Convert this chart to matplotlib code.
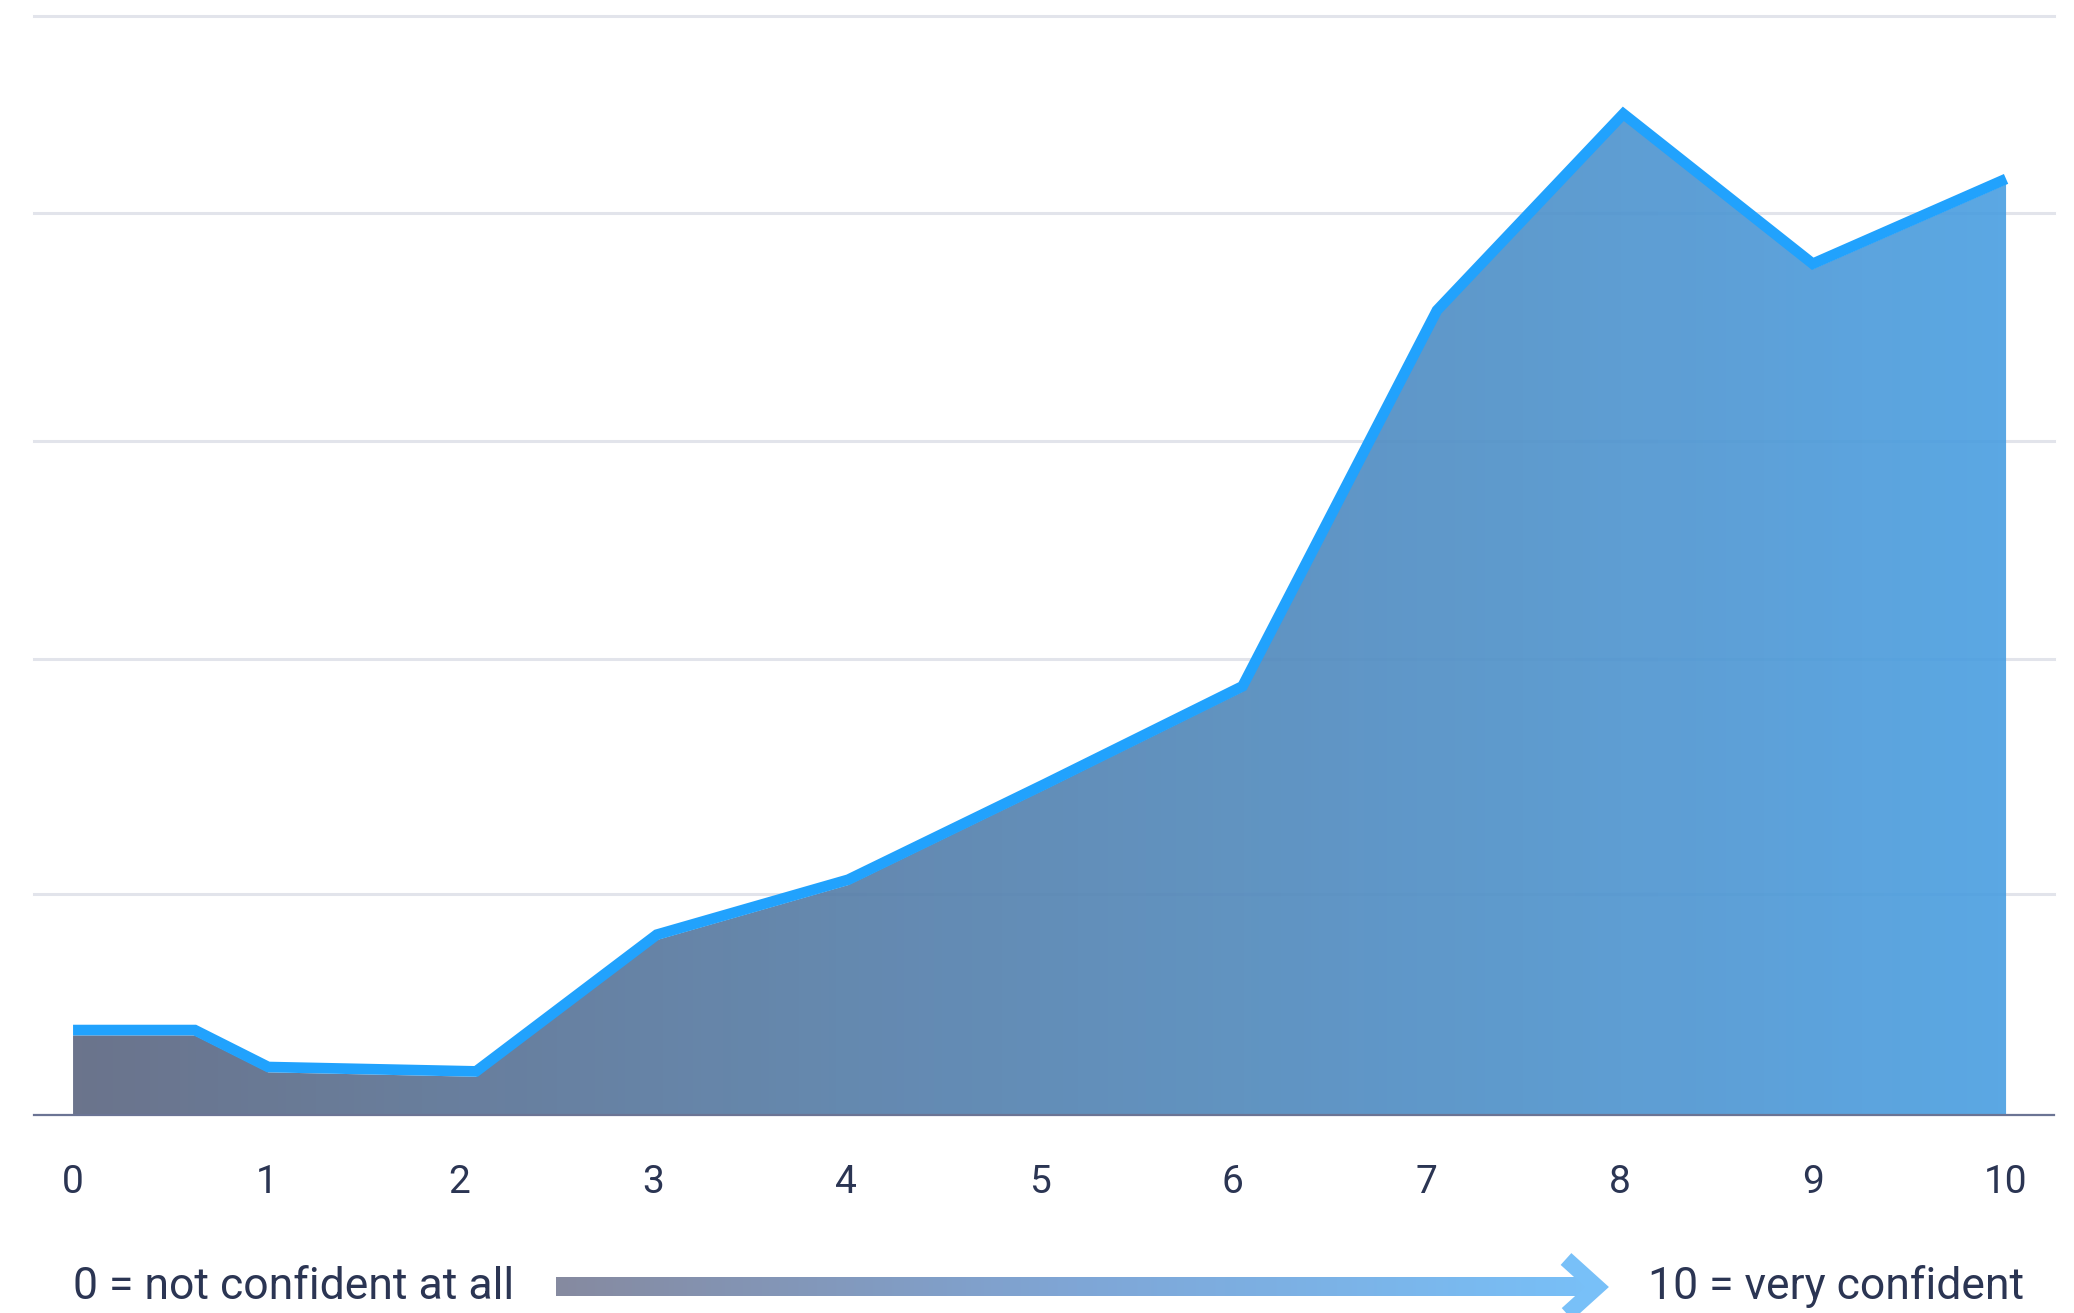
import numpy as np
import matplotlib
matplotlib.use("Agg")
import matplotlib.pyplot as plt
from matplotlib.colors import LinearSegmentedColormap
from matplotlib.patches import Polygon
from matplotlib.transforms import offset_copy

# ------------------- DATEN -------------------
# confidence score (0..10); the vertices sit slightly off the integer ticks in the original
scores = [0, 0.63, 1.01, 2.085, 3.02, 4.01, 5.03, 6.05, 7.056, 8.02, 9.0, 10]
share = [1.81, 1.81, 0.97, 0.87, 3.98, 5.23, 7.41, 9.63, 18.18, 22.65, 19.24, 21.17]
grid_levels = [5.03, 10.38, 15.32, 20.51, 25.0]
tick_pos = list(range(11))
tick_labels = [str(i) for i in tick_pos]
left_label = "0 = not confident at all"
right_label = "10 = very confident"

# ------------------- STIL -------------------
W, H = 2074, 1313
text_col = "#2b3553"
line_col = "#21a2fd"
grid_col = "#e2e4eb"
fill_cmap = LinearSegmentedColormap.from_list("fill", ["#5e6882", "#4ca0e2"])
bar_cmap = LinearSegmentedColormap.from_list("bar", ["#868aa0", "#7fa6d6", "#78c0f8"])
line_w = 7.7  # pt

plt.rcParams["font.family"] = ["Roboto", "DejaVu Sans"]

fig = plt.figure(figsize=(W / 100, H / 100), dpi=100)
ax = fig.add_axes([34 / W, (H - 1115) / H, (2054 - 34) / W, (1115 - 4) / H])
ax.set_xlim(-0.202, 10.248)
ax.set_ylim(0, 25.27)

# Gitternetz
for g in grid_levels:
    ax.axhline(g, color=grid_col, lw=2.2, zorder=1, clip_on=False)

# Flaeche mit Farbverlauf
x = np.array(scores)
y = np.array(share)
poly_pts = np.vstack([[x[0], 0], np.column_stack([x, y]), [x[-1], 0]])
poly = Polygon(poly_pts, closed=True, facecolor="none", edgecolor="none")
ax.add_patch(poly)
grad = np.linspace(0, 1, 512).reshape(1, -1)
img = ax.imshow(grad, cmap=fill_cmap, extent=[x[0], x[-1], 0, max(share)],
                aspect="auto", alpha=0.92, zorder=2, interpolation="bicubic")
img.set_clip_path(poly)

# Linie sitzt auf der Flaeche
tr = offset_copy(ax.transData, fig=fig, x=0, y=line_w / 2, units="points")
ax.plot(x, y, color=line_col, lw=line_w, transform=tr, zorder=3,
        solid_joinstyle="miter", solid_capstyle="butt")

for s in ["top", "left", "right"]:
    ax.spines[s].set_visible(False)
ax.spines["bottom"].set_color("#6b7494")
ax.spines["bottom"].set_linewidth(1.6)
ax.spines["bottom"].set_zorder(4)
ax.set_yticks([])
ax.set_xticks(tick_pos)
ax.set_xticklabels(tick_labels)
ax.tick_params(axis="x", length=0, pad=35, labelsize=28, labelcolor=text_col)

# ------------------- LEGENDE (Pfeil) -------------------
ov = fig.add_axes([0, 0, 1, 1], zorder=5)
ov.set_xlim(0, W)
ov.set_ylim(H, 0)
ov.axis("off")
ov.patch.set_alpha(0)

ov.text(73, 1287, left_label, fontsize=32, color=text_col, ha="left", va="center")
ov.text(2024, 1287, right_label, fontsize=32, color=text_col, ha="right", va="center")

bar_x0, bar_x1, bar_yc, bar_h = 556, 1598, 1287, 19
ov.imshow(grad, cmap=bar_cmap, extent=[bar_x0, bar_x1, bar_yc + bar_h / 2, bar_yc - bar_h / 2],
          aspect="auto", interpolation="bicubic")
ov.plot([1566, 1597, 1566], [1259, 1287, 1315], color="#78c0f8", lw=11.5,
        solid_joinstyle="miter", solid_capstyle="butt")
ov.set_xlim(0, W)
ov.set_ylim(H, 0)

fig.savefig("out.png", dpi=100)
